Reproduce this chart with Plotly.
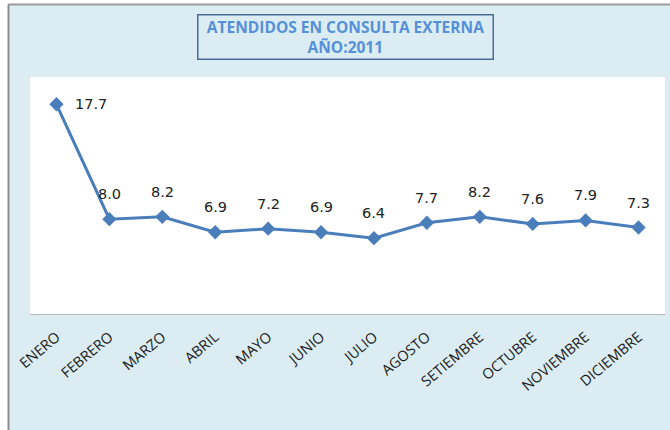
import plotly.graph_objects as go

months = ["ENERO", "FEBRERO", "MARZO", "ABRIL", "MAYO", "JUNIO", "JULIO",
          "AGOSTO", "SETIEMBRE", "OCTUBRE", "NOVIEMBRE", "DICIEMBRE"]
values = [17.7, 8.0, 8.2, 6.9, 7.2, 6.9, 6.4, 7.7, 8.2, 7.6, 7.9, 7.3]
labels = ["17.7", "8.0", "8.2", "6.9", "7.2", "6.9", "6.4", "7.7", "8.2", "7.6", "7.9", "7.3"]

W, H = 670, 430
BG = "#dbedf3"
LINE = "#4a7ebb"

fig = go.Figure()
fig.add_trace(go.Scatter(
    x=months, y=values, mode="lines+markers",
    line=dict(color=LINE, width=3),
    marker=dict(symbol="diamond", size=11, color=LINE),
    hoverinfo="skip", showlegend=False,
))

lab_font = dict(family="DejaVu Sans", size=14.5, color="#222222")
annotations = []
for i, (m, v, t) in enumerate(zip(months, values, labels)):
    if i == 0:
        annotations.append(dict(x=m, y=v, text=t, showarrow=False, xanchor="left",
                                yanchor="middle", xshift=17, yshift=0, font=lab_font))
    else:
        annotations.append(dict(x=m, y=v, text=t, showarrow=False, xanchor="center",
                                yanchor="middle", yshift=25, font=lab_font))

# title box
annotations.append(dict(
    xref="paper", yref="paper",
    x=(345.5 - 30) / 635, y=1 + (77 - 37) / 237,
    xanchor="center", yanchor="middle",
    text="<b>ATENDIDOS EN CONSULTA EXTERNA<br>AÑO:2011</b>",
    showarrow=False, width=292, height=41,
    bgcolor=BG, bordercolor="#4a6a9c", borderwidth=1.5,
    font=dict(family="Open Sans", size=15.5, color="#5590d8"),
))

fig.update_layout(
    width=W, height=H,
    margin=dict(l=30, r=5, t=77, b=116, autoexpand=False),
    paper_bgcolor=BG, plot_bgcolor="white",
    annotations=annotations,
    xaxis=dict(
        type="category", tickangle=-40, showgrid=False, zeroline=False,
        showline=True, linecolor="#b8b8b8", linewidth=1,
        ticks="", ticklabelstandoff=8, automargin=False,
        tickfont=dict(family="Open Sans", size=14.5, color="#1a1a1a"),
        range=[-0.5, 11.5], fixedrange=True,
    ),
    yaxis=dict(
        range=[0, 20], showgrid=False, zeroline=False, showticklabels=False,
        showline=False, fixedrange=True, automargin=False,
    ),
    shapes=[
        dict(type="rect", xref="paper", yref="paper", x0=-30/635, x1=-22/635,
             y0=-116/237, y1=1 + 77/237, fillcolor="white", line=dict(width=0), layer="below"),
        dict(type="rect", xref="paper", yref="paper", x0=-30/635, x1=1 + 5/635,
             y0=1 + 73/237, y1=1 + 77/237, fillcolor="white", line=dict(width=0), layer="below"),
        dict(type="line", xref="paper", yref="paper", x0=-21.5/635, x1=-21.5/635,
             y0=-116/237, y1=1 + 72.5/237, line=dict(color="#8c8c8c", width=2), layer="below"),
        dict(type="line", xref="paper", yref="paper", x0=-22/635, x1=1 + 5/635,
             y0=1 + 72.5/237, y1=1 + 72.5/237, line=dict(color="#9a9a9a", width=2), layer="below"),
    ],
)

fig.write_html("out.html", config={"displayModeBar": False},
               post_script="document.body.style.margin='0';document.body.style.overflow='hidden';")
